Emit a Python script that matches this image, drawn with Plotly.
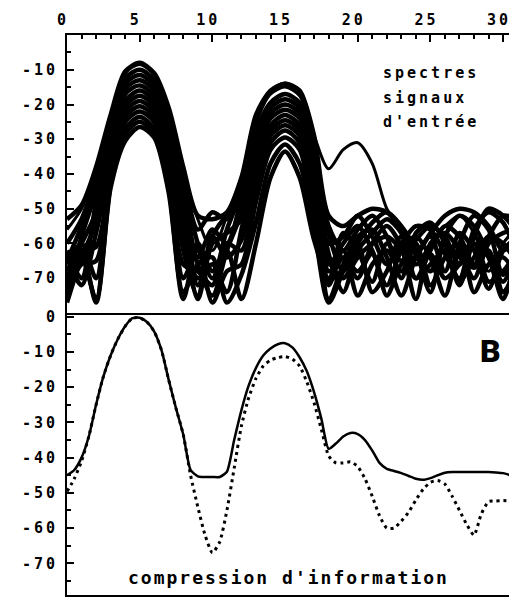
import plotly.graph_objects as go

# ---------------- data ----------------
X_TOP = [0, 1, 2, 3, 4, 5, 6, 7, 8, 9, 10, 11, 12, 13, 14, 15,
         16, 17, 18, 19, 20, 21, 22, 23, 24, 25, 26, 27, 28, 29, 30, 31]

SPEC_01 = [-53, -49, -38, -23, -10.5, -8, -11, -21, -38, -52, -53, -51, -41, -23, -16, -14, -16, -29, -52, -55, -52, -50, -51, -56, -63, -57, -52, -50, -51, -55, -62, -58]
SPEC_02 = [-56, -50, -39, -24, -11, -8.5, -11.5, -22, -39, -53, -62, -52, -41, -24, -17, -15, -17.5, -29, -38.5, -33, -31, -37, -50, -56, -66, -60, -55, -52, -57, -68, -60, -55]
SPEC_03 = [-60, -53, -41, -25.5, -12.5, -10, -13, -24, -41, -56, -51, -53, -43, -25, -16.5, -14, -16.5, -31, -55, -62, -56, -52, -58, -70, -57, -54, -60, -72, -58, -50, -52, -57]
SPEC_04 = [-65, -55, -43, -27, -14, -11.5, -14.5, -26, -43, -60, -70, -56, -45, -28, -19.5, -17, -19.5, -33, -57, -68, -60, -54, -51, -55, -62, -74, -58, -52, -55, -63, -71, -62]
SPEC_05 = [-74, -58, -45, -29, -15.5, -13, -16, -28, -45, -64, -56, -60, -47, -30, -21, -18.5, -21, -35, -60, -58, -52, -58, -66, -60, -55, -56, -63, -70, -56, -51, -54, -64]
SPEC_06 = [-62, -70, -48, -31, -17, -14.5, -17.5, -30, -48, -72, -58, -52, -49, -32, -22.5, -20, -22.5, -37, -63, -74, -62, -57, -53, -57, -70, -62, -55, -58, -66, -58, -52, -53]
SPEC_07 = [-68, -60, -51, -33, -19, -16, -19, -32, -51, -66, -75, -62, -51, -34, -24, -21.5, -24, -39, -66, -60, -55, -62, -72, -62, -58, -64, -75, -60, -52, -56, -69, -62]
SPEC_08 = [-77, -64, -54, -35, -20.5, -17.5, -20.5, -34, -55, -76, -60, -57, -53, -36, -26, -23, -26, -41, -68, -64, -70, -60, -55, -61, -76, -60, -57, -62, -70, -60, -57, -56]
SPEC_09 = [-64, -72, -57, -37, -22, -19, -22, -36, -58, -70, -66, -74, -56, -38, -27.5, -24.5, -27.5, -44, -71, -57, -62, -71, -60, -65, -59, -55, -58, -66, -58, -64, -76, -60]
SPEC_10 = [-70, -62, -61, -39, -23.5, -20.5, -23.5, -38, -62, -75, -58, -64, -59, -41, -29, -26, -29, -47, -76, -66, -58, -56, -64, -75, -64, -58, -68, -57, -62, -73, -62, -58]
SPEC_11 = [-75, -66, -65, -41, -25, -22, -25, -40, -66, -68, -72, -60, -62, -44, -31, -27.5, -31, -50, -65, -70, -64, -60, -58, -62, -70, -66, -62, -71, -64, -58, -60, -66]
SPEC_12 = [-66, -60, -70, -42, -27, -23.5, -27, -42, -70, -62, -77, -68, -66, -48, -33, -29.5, -33, -53, -72, -62, -75, -66, -62, -68, -60, -72, -64, -60, -74, -66, -64, -70]
SPEC_13 = [-72, -64, -76, -43, -28.5, -25, -28.5, -44, -74, -66, -64, -77, -69, -54, -37, -31.5, -37, -56, -77, -68, -60, -74, -68, -58, -66, -63, -70, -66, -60, -71, -68, -62]
SPEC_14 = [-68, -62, -77, -44, -30.5, -26.5, -29.5, -45.5, -76, -60, -68, -62, -76, -60, -41, -33.5, -41, -59, -70, -64, -68, -63, -75, -66, -64, -68, -60, -64, -67, -62, -74, -66]

X_BOT = [0, 0.5, 1, 1.5, 2, 2.5, 3, 3.5, 4, 4.5, 5, 5.5, 6, 6.5, 7, 7.5, 8, 8.5, 9, 9.5,
         10, 10.5, 11, 11.5, 12, 12.5, 13, 13.5, 14, 14.5, 15, 15.5, 16, 16.5, 17, 17.5,
         18, 18.5, 19, 19.5, 20, 20.5, 21, 21.5, 22, 22.5, 23, 23.5, 24, 24.5, 25, 25.5,
         26, 26.5, 27, 27.5, 28, 28.5, 29, 29.5, 30, 30.5]
COMPRESSED = [-45, -43.5, -40, -34, -25, -17, -11, -6.3, -2.7, -0.4, -0.3, -1.5, -4.2, -9.5, -18, -26,
              -33.5, -43.5, -45.3, -45.5, -45.5, -45.5, -44, -35, -26.5, -19.5, -14.5, -11, -9, -7.8,
              -7.5, -8.7, -11.5, -15.5, -21.5, -29, -37.5, -36, -34, -33, -33.3, -35, -38, -41.5,
              -43.2, -43.8, -44.4, -45.2, -46, -46.3, -45.8, -45, -44.3, -44.1, -44.1, -44.1, -44.1,
              -44.1, -44.1, -44.2, -44.4, -45]
DOTTED = [-49.6, -46, -41, -34, -25, -17, -11, -6.3, -2.7, -0.4, -0.3, -1.5, -4.2, -9.5, -18, -26,
          -33.5, -45, -54, -62, -67, -64, -55, -43, -31, -23, -17.5, -14, -12.3, -11.6,
          -11.3, -12, -14, -18.5, -24.5, -32, -39.5, -41.5, -41.5, -41.2, -42.5, -46, -51, -56.5,
          -60, -60, -58, -55.5, -52, -49, -47, -46.5, -47.5, -51, -55, -59, -62, -56, -52.5,
          -52.3, -52.2, -52.3]

X_TICKS = [0, 5, 10, 15, 20, 25, 30]
X_TICK_TEXT = ["0", "5", "10", "15", "20", "25", "30"]
Y_TOP_TICKS = [-10, -20, -30, -40, -50, -60, -70]
Y_TOP_TEXT = ["-10", "-20", "-30", "-40", "-50", "-60", "-70"]
Y_BOT_TICKS = [0, -10, -20, -30, -40, -50, -60, -70]
Y_BOT_TEXT = ["0", "-10", "-20", "-30", "-40", "-50", "-60", "-70"]

SPECTRA = [SPEC_01, SPEC_02, SPEC_03, SPEC_04, SPEC_05, SPEC_06, SPEC_07,
           SPEC_08, SPEC_09, SPEC_10, SPEC_11, SPEC_12, SPEC_13, SPEC_14]

# ---------------- figure ----------------
MONO = "DejaVu Sans Mono"
tickfont = dict(family=MONO, size=15, color="black", weight="bold")


def spaced(t, px=2):
    return '<span style="letter-spacing:%dpx">%s</span>' % (px, t)


fig = go.Figure()
for i, ys in enumerate(SPECTRA):
    fig.add_trace(go.Scatter(x=X_TOP, y=ys, mode="lines", xaxis="x", yaxis="y",
                             line=dict(color="black", width=3 if i == 1 else 4.5,
                                       shape="spline", smoothing=0.8),
                             showlegend=False, hoverinfo="skip"))

fig.add_trace(go.Scatter(x=X_BOT, y=DOTTED, mode="lines", xaxis="x2", yaxis="y2",
                         line=dict(color="black", width=3, dash="3px,4px", shape="spline", smoothing=0.6),
                         showlegend=False, hoverinfo="skip"))
fig.add_trace(go.Scatter(x=X_BOT, y=COMPRESSED, mode="lines", xaxis="x2", yaxis="y2",
                         line=dict(color="black", width=2.5, shape="spline", smoothing=0.6),
                         showlegend=False, hoverinfo="skip"))

axis_common = dict(showline=True, linecolor="black", linewidth=2, mirror=True,
                   showgrid=False, zeroline=False)

# page body has an 8px margin, so the figure is 8px smaller than the window
fig.update_layout(
    width=509, height=589,
    margin=dict(l=59, r=1, t=27, b=2),
    paper_bgcolor="white", plot_bgcolor="white",
    xaxis=dict(domain=[0, 1], range=[0, 30.75], side="top", anchor="y",
               ticks="inside", ticklen=7, tickwidth=2, tickcolor="black",
               tickmode="array", tickvals=X_TICKS, ticktext=[spaced(t, 3) for t in X_TICK_TEXT],
               tickfont=tickfont, ticklabelshift=-4, ticklabelstandoff=2,
               minor=dict(tickmode="linear", tick0=0, dtick=1, ticks="inside",
                          ticklen=4, tickwidth=2, tickcolor="black"),
               **axis_common),
    yaxis=dict(domain=[0.5036, 1], range=[-80, 0], anchor="x",
               ticks="inside", ticklen=7, tickwidth=2, tickcolor="black",
               tickmode="array", tickvals=Y_TOP_TICKS, ticktext=[spaced(t, 3) for t in Y_TOP_TEXT],
               tickfont=tickfont, ticklabelstandoff=4,
               minor=dict(tickmode="linear", tick0=0, dtick=5, ticks="inside",
                          ticklen=4, tickwidth=2, tickcolor="black"),
               **axis_common),
    xaxis2=dict(domain=[0, 1], range=[0, 30.75], anchor="y2",
                showticklabels=False, ticks="", **axis_common),
    yaxis2=dict(domain=[0, 0.5], range=[-79, 0.5], anchor="x2",
                ticks="inside", ticklen=7, tickwidth=2, tickcolor="black",
                tickmode="array", tickvals=Y_BOT_TICKS, ticktext=[spaced(t, 3) for t in Y_BOT_TEXT],
                tickfont=tickfont, ticklabelstandoff=4,
                minor=dict(tickmode="linear", tick0=0, dtick=5, ticks="inside",
                           ticklen=4, tickwidth=2, tickcolor="black"),
                **axis_common),
)

label_font = dict(family=MONO, size=15, color="black", weight="bold")
for txt, yv in [("spectres", -10.9), ("signaux", -18.0), ("d'entrée", -24.9)]:
    fig.add_annotation(x=21.6, y=yv, xref="x", yref="y", text=spaced(txt, 3),
                       showarrow=False, xanchor="left", yanchor="middle", font=label_font)

fig.add_annotation(x=15.27, y=-74.1, xref="x2", yref="y2",
                   text=spaced("compression d'information", 2), showarrow=False,
                   xanchor="center", yanchor="middle",
                   font=dict(family=MONO, size=18, color="black", weight="bold"))

fig.add_annotation(x=29.1, y=-9.8, xref="x2", yref="y2", text="B", showarrow=False,
                   xanchor="center", yanchor="middle",
                   font=dict(family="Roboto, sans-serif", size=32, color="black", weight=900))

fig.write_html("out.html")
